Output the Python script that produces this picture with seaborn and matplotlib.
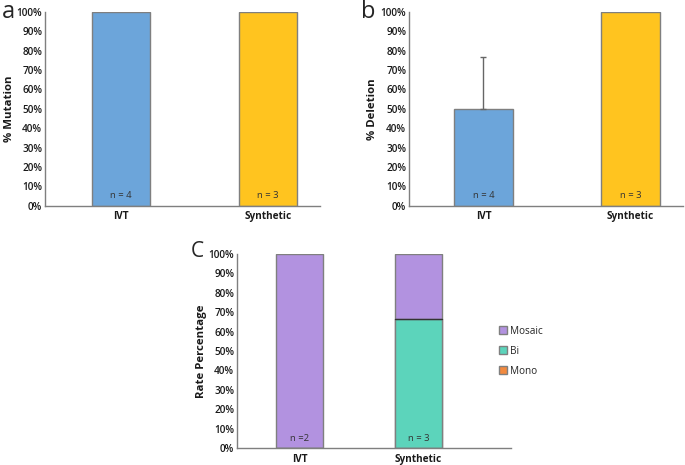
import pandas as pd
import seaborn as sns
import matplotlib
matplotlib.use("Agg")
import matplotlib.pyplot as plt
from matplotlib.patches import Patch
from matplotlib.ticker import PercentFormatter

groups = ["IVT", "Synthetic"]
mutation = [1.0, 1.0]
deletion = [0.5, 1.0]
deletion_err = [0.265, 0.0]
n_ab = ["n = 4", "n = 3"]
n_c = ["n =2", "n = 3"]

# panel c, stacked rates
mosaic = [1.0, 0.333]
bi = [0.0, 0.667]
mono = [0.0, 0.0]

col_ivt = "#6CA5DA"
col_syn = "#FFC41F"
col_mosaic = "#B292E0"
col_bi = "#5CD4BB"
col_mono = "#F28A3F"
edge = "#7F7F7F"

sns.set_style("white")
plt.rcParams["font.family"] = ["Open Sans", "DejaVu Sans"]

fig = plt.figure(figsize=(6.85, 4.65), dpi=100)
ax_a = fig.add_axes([0.0657, 0.5578, 0.4015, 0.4164])
ax_b = fig.add_axes([0.597, 0.5578, 0.400, 0.4164])
ax_c = fig.add_axes([0.346, 0.0366, 0.400, 0.417])


def style_ax(ax, ylabel, xlim):
    ax.set_ylim(0, 1)
    ax.set_xlim(*xlim)
    ax.yaxis.set_major_locator(plt.MultipleLocator(0.1))
    ax.yaxis.set_major_formatter(PercentFormatter(1.0, decimals=0))
    ax.tick_params(axis="y", length=0, labelsize=7.2, labelcolor="#1a1a1a", pad=2)
    ax.tick_params(axis="x", length=0, labelsize=7.2, labelcolor="#1a1a1a", pad=4)
    for lab in ax.get_yticklabels():
        lab.set_fontweight("semibold")
    for lab in ax.get_xticklabels():
        lab.set_fontweight("bold")
    for s in ["top", "right"]:
        ax.spines[s].set_visible(False)
    for s in ["left", "bottom"]:
        ax.spines[s].set_color("#7F7F7F")
        ax.spines[s].set_linewidth(1.0)
    ax.set_xlabel("")
    ax.set_ylabel(ylabel, fontsize=8.2, fontweight="bold", labelpad=1.5, color="#1a1a1a")


def n_labels(ax, labels):
    for i, t in enumerate(labels):
        ax.text(i, 0.05, t, ha="center", va="center", fontsize=6.8, color="#333333")


# a
df_a = pd.DataFrame({"group": groups, "val": mutation})
sns.barplot(data=df_a, x="group", y="val", hue="group", palette=[col_ivt, col_syn],
            width=0.4, edgecolor=edge, linewidth=1, legend=False, saturation=1, ax=ax_a)
style_ax(ax_a, "% Mutation", (-0.517, 1.354))
n_labels(ax_a, n_ab)

# b
df_b = pd.DataFrame({"group": groups, "val": deletion})
sns.barplot(data=df_b, x="group", y="val", hue="group", palette=[col_ivt, col_syn],
            width=0.4, edgecolor=edge, linewidth=1, legend=False, saturation=1, ax=ax_b)
ax_b.errorbar([0], [deletion[0]], yerr=[[0], [deletion_err[0]]], fmt="none",
              ecolor="#666666", elinewidth=1, capsize=2.5, capthick=1)
style_ax(ax_b, "% Deletion", (-0.507, 1.357))
n_labels(ax_b, n_ab)

# c, stacked: draw cumulative heights from top segment down
cum_mosaic = [m + b + o for m, b, o in zip(mosaic, bi, mono)]
cum_bi = [b + o for b, o in zip(bi, mono)]
df_c = pd.DataFrame({"group": groups, "mosaic": cum_mosaic, "bi": cum_bi, "mono": mono})
sns.barplot(data=df_c, x="group", y="mosaic", color=col_mosaic, width=0.4,
            edgecolor=edge, linewidth=1, saturation=1, ax=ax_c)
sns.barplot(data=df_c, x="group", y="bi", color=col_bi, width=0.4,
            edgecolor=edge, linewidth=1, saturation=1, ax=ax_c)
sns.barplot(data=df_c, x="group", y="mono", color=col_mono, width=0.4,
            edgecolor=edge, linewidth=1, saturation=1, ax=ax_c)
# darker boundary between segments
ax_c.plot([0.8, 1.2], [cum_bi[1], cum_bi[1]], color="#333333", lw=1)
style_ax(ax_c, "Rate Percentage", (-0.525, 1.777))
n_labels(ax_c, n_c)

handles = [Patch(facecolor=col_mosaic, edgecolor=edge, label="Mosaic"),
           Patch(facecolor=col_bi, edgecolor=edge, label="Bi"),
           Patch(facecolor=col_mono, edgecolor=edge, label="Mono")]
ax_c.legend(handles=handles, loc="center left", bbox_to_anchor=(0.94, 0.5),
            frameon=False, fontsize=7.2, handlelength=0.8, handleheight=0.8,
            handletextpad=0.3, labelspacing=0.9, borderaxespad=0)

fig.text(0.003, 0.975, "a", fontsize=17, va="center", ha="left")
fig.text(0.527, 0.975, "b", fontsize=17, va="center", ha="left")
fig.text(0.278, 0.46, "C", fontsize=15, va="center", ha="left")

fig.savefig("out.png", dpi=100)
